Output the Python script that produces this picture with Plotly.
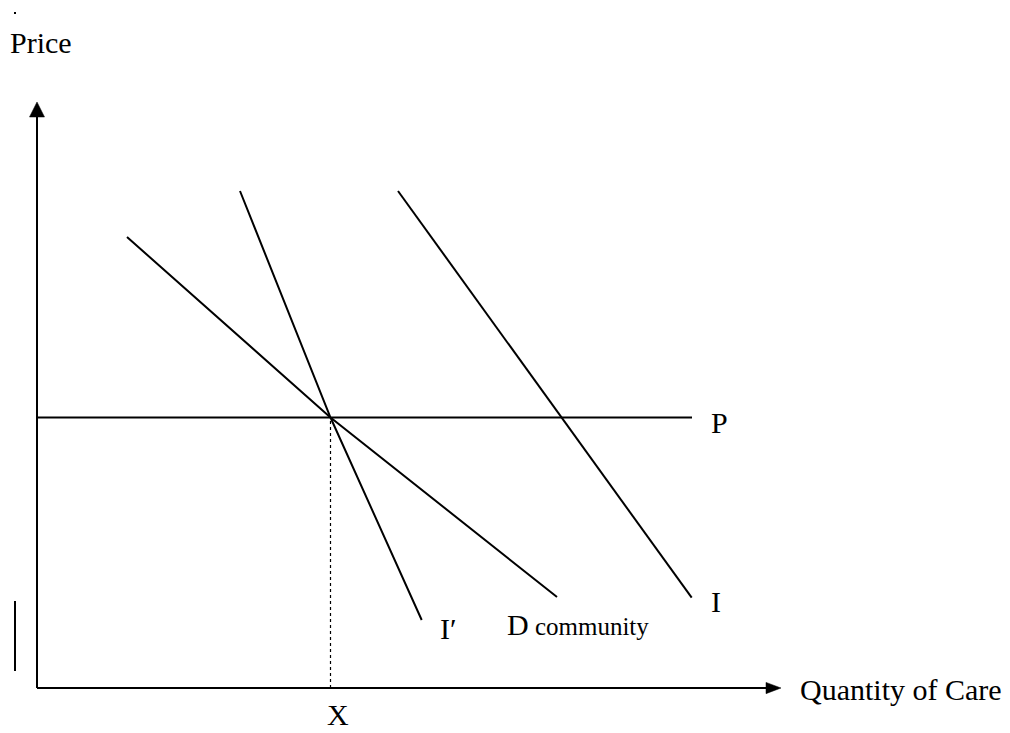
import plotly.graph_objects as go

# ---- data (diagram coordinates: origin at the axes corner) ----
x_axis_end = 744          # quantity axis tip
y_axis_end = 586          # price axis tip
price_level = 270.5       # P
x_star = 293.5            # X (quantity where curves meet P)
p_line_end = 655

d_community_x = [90, 293.5, 520]
d_community_y = [451, 270.5, 91]
i_prime_x = [203, 293.5, 384.7]
i_prime_y = [497, 270.5, 68]
i_x = [361, 654.7]
i_y = [497, 90.3]

marker_bar_x = [-22, -22]
marker_bar_y = [17, 87]
stray_dot = (-22, 675)

labels = {
    "price": "Price",
    "quantity": "Quantity of Care",
    "p": "P",
    "i": "I",
    "i_prime": "I\u2032",
    "d": "D",
    "d_sub": "community",
    "x": "X",
}

# ---- style ----
FONT = "Liberation Serif, Times New Roman, serif"
BIG = 30
SMALL = 25
LW = 2
ARROW_LEN = 15
ARROW_HALF = 7.5
PAGE_OFFSET = 8   # default body margin of the written page

fig = go.Figure()

def line(xs, ys, width=LW, dash=None):
    fig.add_trace(go.Scatter(x=xs, y=ys, mode="lines",
                             line=dict(color="black", width=width, dash=dash),
                             hoverinfo="skip", showlegend=False))

# axes
line([0, 0], [0, y_axis_end - ARROW_LEN + 1])
line([0, x_axis_end - ARROW_LEN + 1], [0, 0])
# arrow heads (scaled from axis tips)
fig.add_trace(go.Scatter(
    x=[-ARROW_HALF, ARROW_HALF, 0, -ARROW_HALF],
    y=[y_axis_end - ARROW_LEN, y_axis_end - ARROW_LEN, y_axis_end, y_axis_end - ARROW_LEN],
    mode="lines", fill="toself", fillcolor="black",
    line=dict(color="black", width=0.5), hoverinfo="skip", showlegend=False))
fig.add_trace(go.Scatter(
    x=[x_axis_end - ARROW_LEN, x_axis_end - ARROW_LEN, x_axis_end, x_axis_end - ARROW_LEN],
    y=[-ARROW_HALF * 0.75, ARROW_HALF * 0.75, 0, -ARROW_HALF * 0.75],
    mode="lines", fill="toself", fillcolor="black",
    line=dict(color="black", width=0.5), hoverinfo="skip", showlegend=False))

# price line
line([0, p_line_end], [price_level, price_level])
# dotted drop line
line([x_star, x_star], [0, price_level], width=1.2, dash="dot")
# curves
line(d_community_x, d_community_y)
line(i_prime_x, i_prime_y)
line(i_x, i_y)
# stray marks
line(marker_bar_x, marker_bar_y, width=2)
fig.add_trace(go.Scatter(x=[stray_dot[0]], y=[stray_dot[1]], mode="markers",
                         marker=dict(color="black", size=2, symbol="square"),
                         hoverinfo="skip", showlegend=False))

def label(text, x, y, size=BIG, xanchor="left"):
    fig.add_annotation(x=x, y=y, text=text, showarrow=False, xref="x", yref="y",
                       xanchor=xanchor, yanchor="middle", borderpad=0,
                       font=dict(family=FONT, size=size, color="black"))

label(labels["price"], -28, 645.5)
label(labels["quantity"], 762, -1)
label(labels["p"], 673, 266)
label(labels["i"], 673, 86.5)
label(labels["i_prime"], 402, 60)
label(labels["d"] + "<span style='font-size:%dpx'> %s</span>" % (SMALL, labels["d_sub"]), 469, 63.5)
label(labels["x"], x_star + 7, -26.5, xanchor="center")

fig.update_layout(
    width=1010, height=733,
    margin=dict(l=0, r=0, t=0, b=0),
    paper_bgcolor="white", plot_bgcolor="white",
    xaxis=dict(range=[-37 + PAGE_OFFSET, 973 + PAGE_OFFSET], visible=False, fixedrange=True),
    yaxis=dict(range=[-45 - PAGE_OFFSET, 688 - PAGE_OFFSET], visible=False, fixedrange=True),
    showlegend=False,
)

fig.write_html("out.html")
